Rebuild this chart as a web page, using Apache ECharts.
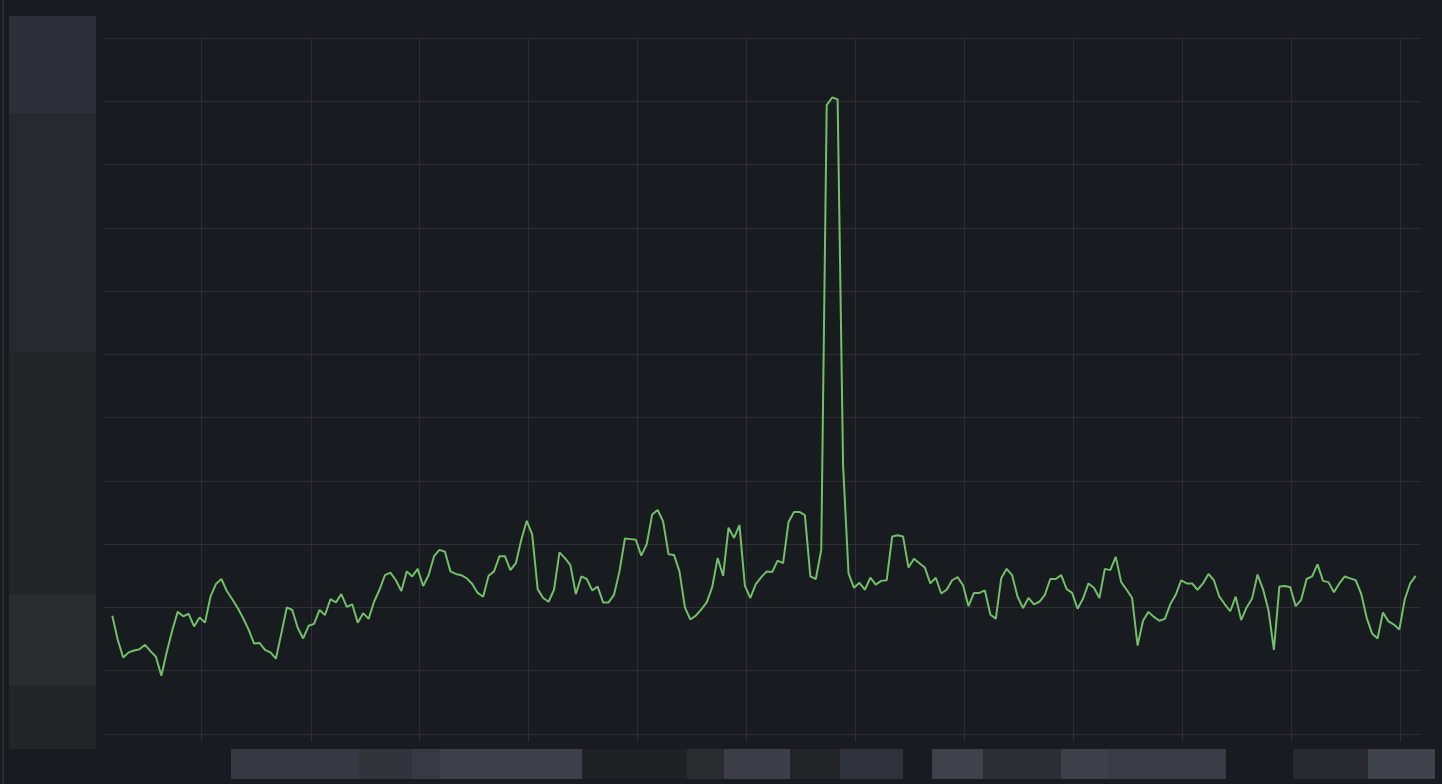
<!DOCTYPE html>
<html>
<head>
<meta charset="utf-8">
<script src="https://cdn.jsdelivr.net/npm/echarts@6/dist/echarts.min.js"></script>
<style>
html,body{margin:0;padding:0;background:#181b1f;}
#chart{width:1442px;height:784px;}
</style>
</head>
<body>
<div id="chart"></div>
<script>
// ---- data ----
const seriesName = 'value';
const values = [
  18.7, 14.9, 12.1, 12.9, 13.2, 13.4, 14.1, 13.1, 12.2, 9.2,
  13.0, 16.4, 19.3, 18.6, 19.0, 17.0, 18.4, 17.6, 21.7, 23.7,
  24.5, 22.6, 21.3, 19.9, 18.3, 16.5, 14.3, 14.4, 13.3, 12.9,
  11.9, 15.9, 20.0, 19.6, 16.8, 15.1, 17.1, 17.4, 19.6, 18.8,
  21.3, 20.8, 22.1, 20.1, 20.5, 17.6, 19.1, 18.2,
  20.9, 22.8, 25.1, 25.5, 24.3, 22.6, 25.7, 24.9, 26.1, 23.4,
  25.1, 28.1, 29.1, 28.8, 25.7, 25.3, 25.1, 24.6, 23.7, 22.3,
  21.7, 25.0, 25.7, 28.1, 28.1, 25.9, 27.0, 30.7, 33.7, 31.5,
  22.9, 21.5, 20.9, 22.8, 28.7, 27.8, 26.7, 22.1, 24.9, 24.5,
  22.7, 23.3, 20.8, 20.8, 22.0, 25.7, 30.9, 30.8,
  30.7, 28.2, 30.0, 34.7, 35.4, 33.6, 28.4, 28.3, 25.7, 20.0,
  18.1, 18.7, 19.7, 20.8, 23.2, 27.8, 25.0, 32.6, 31.0, 33.0,
  23.4, 21.5, 23.7, 24.8, 25.7, 25.6, 27.4, 27.0, 33.5, 35.1,
  35.1, 34.6, 24.9, 24.5, 29.1, 99.4, 100.6, 100.3, 42.5, 25.4,
  23.1, 23.9, 22.8, 24.7, 23.6, 24.2, 24.3, 31.2,
  31.4, 31.2, 26.3, 27.7, 27.0, 26.3, 23.8, 24.7, 22.2, 22.8,
  24.3, 24.8, 23.5, 20.2, 22.3, 22.3, 22.7, 18.9, 18.2, 24.6,
  26.1, 25.1, 21.7, 19.9, 21.5, 20.5, 20.9, 22.0, 24.5, 24.5,
  25.1, 22.9, 22.3, 19.8, 21.4, 23.8, 23.1, 21.5, 26.1, 25.9,
  28.0, 24.0, 22.8, 21.5, 14.0, 17.9, 19.3, 18.5,
  17.9, 18.2, 20.5, 22.0, 24.3, 23.8, 23.8, 22.8, 23.8, 25.3,
  24.3, 21.7, 20.5, 19.4, 21.7, 18.0, 20.0, 21.4, 25.2, 22.9,
  19.6, 13.3, 23.3, 23.4, 23.2, 20.2, 21.2, 24.5, 24.9, 26.8,
  24.2, 24.0, 22.4, 23.8, 24.9, 24.6, 24.3, 22.2, 18.4, 15.9,
  15.1, 19.2, 17.8, 17.3, 16.5, 21.3, 23.8, 25.0
];
// x positions of the vertical grid lines / ticks (in sample-index units)
const xTicks = [16.4, 36.4, 56.3, 76.3, 96.3, 116.3, 136.2, 156.2, 176.2, 196.2, 216.1, 236.1];
const xRange = [-1.52, 239.79];
const yRange = [0, 110];
const yInterval = 10;

// ---- build ----
const points = values.map((v, i) => [i, v]);
const gridColor = '#2c2e33';

// decorative blocks that cover the (hidden) axis label areas in the reference
const leftBlocks = [
  [16, 97, '#2e3039'],
  [113, 239, '#27292e'],
  [352, 243, '#232529'],
  [595, 90, '#2a2c30'],
  [685, 64, '#232529']
];
const bottomBlocks = [
  [231, 128, '#363941'],
  [359, 53, '#31343b'],
  [412, 28, '#373a42'],
  [440, 142, '#3d4049'],
  [582, 105, '#1f2125'],
  [687, 37, '#2a2c30'],
  [724, 66, '#3c3f47'],
  [790, 50, '#222428'],
  [840, 63, '#30333b'],
  [932, 51, '#3f424a'],
  [983, 78, '#2b2e33'],
  [1061, 47, '#3d4049'],
  [1108, 118, '#393c45'],
  [1293, 75, '#27292e'],
  [1368, 67, '#3f424a']
];
const graphics = [];
graphics.push({type: 'rect', silent: true, shape: {x: 2, y: 0, width: 2, height: 784}, style: {fill: '#2b2c31'}});
leftBlocks.forEach(b => graphics.push({type: 'rect', silent: true, shape: {x: 9, y: b[0], width: 87, height: b[1]}, style: {fill: b[2]}}));
bottomBlocks.forEach(b => graphics.push({type: 'rect', silent: true, shape: {x: b[0], y: 749, width: b[1], height: 30}, style: {fill: b[2]}}));

const chart = echarts.init(document.getElementById('chart'), null, {renderer: 'canvas'});
chart.setOption({
  backgroundColor: '#181b1f',
  animation: false,
  grid: {left: 104, right: 22, top: 38, bottom: 50, containLabel: false},
  xAxis: {
    type: 'value',
    min: xRange[0],
    max: xRange[1],
    axisLine: {show: false},
    axisTick: {show: true, length: 8, inside: false, customValues: xTicks, lineStyle: {color: gridColor, width: 1}},
    axisLabel: {show: false, customValues: xTicks},
    splitLine: {show: true, showMinLine: true, showMaxLine: true, lineStyle: {color: gridColor, width: 1}}
  },
  yAxis: {
    type: 'value',
    min: yRange[0],
    max: yRange[1],
    interval: yInterval,
    axisLine: {show: false},
    axisTick: {show: false},
    axisLabel: {show: false},
    splitLine: {show: true, lineStyle: {color: gridColor, width: 1}}
  },
  graphic: graphics,
  series: [{
    name: seriesName,
    type: 'line',
    data: points,
    showSymbol: false,
    symbol: 'none',
    smooth: false,
    lineStyle: {color: '#73bf69', width: 2},
    itemStyle: {color: '#73bf69'}
  }]
});
</script>
</body>
</html>
